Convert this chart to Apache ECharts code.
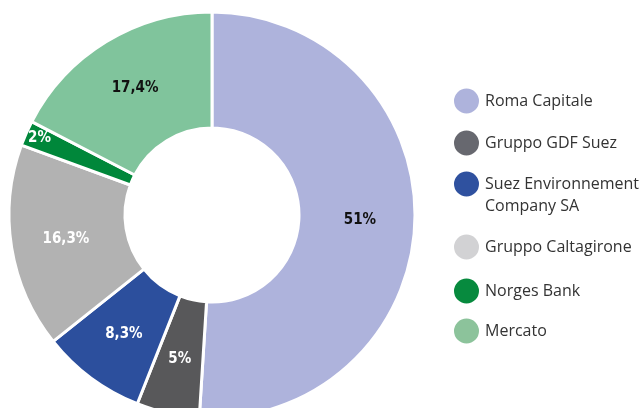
<!DOCTYPE html>
<html>
<head>
<meta charset="utf-8">
<script src="https://cdn.jsdelivr.net/npm/echarts@6/dist/echarts.min.js"></script>
<style>
  html, body { margin: 0; padding: 0; background: #fff; }
  #chart { width: 643px; height: 408px; }
</style>
</head>
<body>
<div id="chart"></div>
<script>
// azionisti
const names = ["Roma Capitale", "Gruppo GDF Suez", "Suez Environnement Company SA", "Gruppo Caltagirone", "Norges Bank", "Mercato"];
const values = [51, 5, 8.3, 16.3, 2, 17.4];
const labels = ["51%", "5%", "8,3%", "16,3%", "2%", "17,4%"];
const legendLines = [["Roma Capitale"], ["Gruppo GDF Suez"], ["Suez Environnement", "Company SA"], ["Gruppo Caltagirone"], ["Norges Bank"], ["Mercato"]];

const sliceColors = ["#aeb3dc", "#58585a", "#2c4f9d", "#b2b2b2", "#00873a", "#80c49c"];
const legendColors = ["#aeb3dc", "#67686f", "#2f519f", "#d2d2d4", "#078a3e", "#8cc39b"];
const labelColors = ["#111", "#fff", "#fff", "#fff", "#fff", "#111"];
const legendCenters = [100, 142, 187, 246, 290, 330]; // y del centro icona

const chart = echarts.init(document.getElementById("chart"));

const legends = names.map((n, i) => {
  const lines = legendLines[i];
  // per le voci su due righe: riga vuota sopra, cosi' l'icona resta sulla prima riga
  const text = lines.length > 1
    ? "{s| }\n" + lines.map((l) => "{t|" + l + "}").join("\n")
    : "{t|" + lines[0] + "}";
  const h = lines.length > 1 ? 22 * (lines.length * 2 - 1) : 27;
  return {
    data: [{ name: n, itemStyle: { color: legendColors[i] } }],
    left: 452,
    top: legendCenters[i] - h / 2,
    icon: "circle",
    itemWidth: 27,
    itemHeight: 27,
    itemGap: 0,
    padding: 0,
    selectedMode: false,
    formatter: () => text,
    textStyle: {
      fontFamily: "'Open Sans', sans-serif",
      fontSize: 16,
      color: "#333",
      rich: {
        s: { fontSize: 16, lineHeight: 22 },
        t: { fontFamily: "'Open Sans', sans-serif", fontSize: 16, color: "#333", lineHeight: 22 },
      },
    },
  };
});

chart.setOption({
  animation: false,
  legend: legends,
  series: [
    {
      type: "pie",
      center: [212, 215],
      radius: [87, 203],
      startAngle: 90,
      clockwise: true,
      avoidLabelOverlap: false,
      itemStyle: {
        borderColor: "#fff",
        borderWidth: 3,
      },
      label: {
        show: true,
        position: "inside",
        fontFamily: "'Liberation Sans Narrow', 'DejaVu Sans Condensed', sans-serif",
        fontWeight: "bold",
        fontSize: 15,
      },
      labelLine: { show: false },
      emphasis: { disabled: true },
      data: names.map((n, i) => ({
        name: n,
        value: values[i],
        itemStyle: { color: sliceColors[i] },
        label: {
          formatter: labels[i],
          color: labelColors[i],
          offset: i === 4 ? [-37, -17] : [0, 0],
        },
      })),
    },
  ],
});
</script>
</body>
</html>
